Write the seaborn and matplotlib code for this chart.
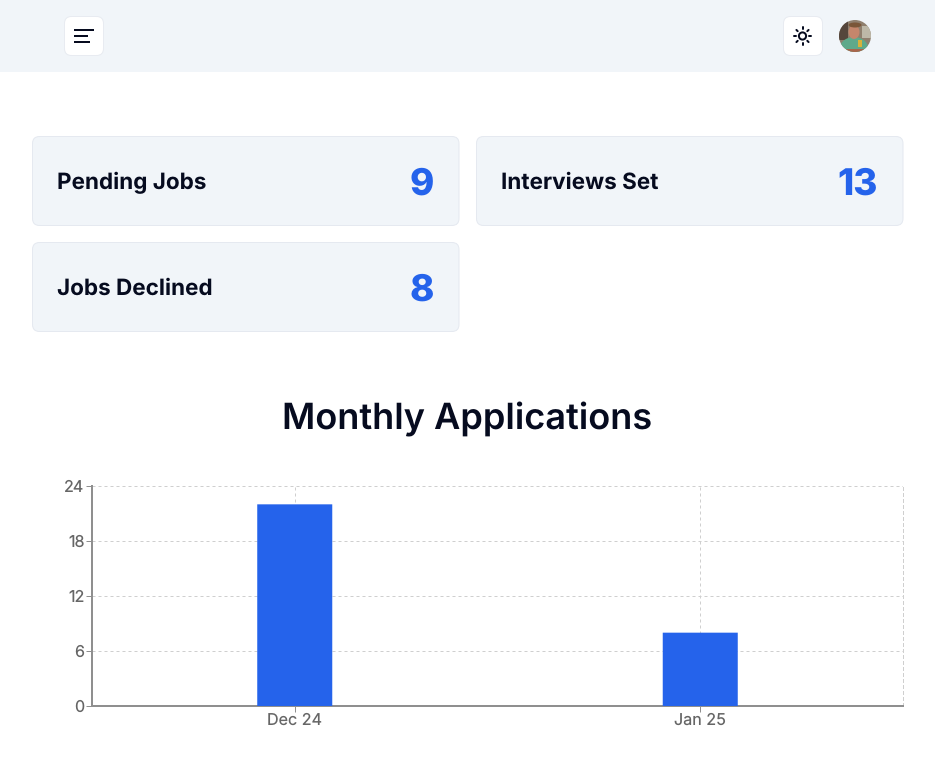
"""
Job tracker dashboard with the monthly applications bar chart.
"""
import numpy as np
import pandas as pd
import matplotlib
matplotlib.use('Agg')
import matplotlib.pyplot as plt
from matplotlib.patches import Circle, FancyBboxPatch, Rectangle, Ellipse
import seaborn as sns

months = ['Dec 24', 'Jan 25']
applications = [22, 8]
y_ticks = [0, 6, 12, 18, 24]

card_labels = ['Pending Jobs', 'Interviews Set', 'Jobs Declined']
card_values = ['9', '13', '8']

W, H = 935, 778
PX = 0.72  # one pixel in points at dpi 100
INK = '#060b1f'
BLUE = '#2563eb'
PANEL = '#f1f5f9'
AXIS = '#8f8f8f'
TICK_TEXT = '#666666'
GRID = '#cfcfcf'

sns.set_theme(style='white')
plt.rcParams['font.family'] = ['Inter', 'Liberation Sans', 'DejaVu Sans']
plt.rcParams['text.hinting'] = 'no_hinting'

fig = plt.figure(figsize=(W / 100, H / 100), dpi=100, facecolor='white')

# page chrome lives on a full size axes in pixel coordinates
page = fig.add_axes([0, 0, 1, 1])
page.set_xlim(0, W)
page.set_ylim(H, 0)
page.axis('off')


def rounded(ax, x, y, w, h, face, edge, r=7, lw=PX):
    ax.add_patch(FancyBboxPatch((x + r, y + r), w - 2 * r, h - 2 * r,
                                boxstyle=f'round,pad={r},rounding_size={r}',
                                facecolor=face, edgecolor=edge, linewidth=lw))


# Top bar
page.add_patch(Rectangle((0, 0), W, 72, facecolor=PANEL, edgecolor='none'))
rounded(page, 64.5, 16.5, 39, 39, 'white', '#e8ebf1')
rounded(page, 783.5, 16.5, 39, 39, 'white', '#e8ebf1')
for y_line, x_end in zip([30, 36, 42], [94, 88, 90]):
    page.plot([74, x_end], [y_line, y_line], color=INK, lw=2 * PX, solid_capstyle='butt')

# Sun icon
page.add_patch(Circle((802.5, 36), 3.6, facecolor='white', edgecolor=INK, lw=2 * PX))
for angle in np.arange(0, 360, 45):
    dx, dy = np.cos(np.radians(angle)), np.sin(np.radians(angle))
    page.plot([802.5 + 6.8 * dx, 802.5 + 8.6 * dx], [36 + 6.8 * dy, 36 + 8.6 * dy],
              color=INK, lw=2 * PX, solid_capstyle='round')

# Avatar, just rough shapes clipped to the circle
clip = Circle((855, 36), 16, transform=page.transData)
avatar_parts = [
    Rectangle((839, 20), 32, 32, facecolor='#8f7f6e', edgecolor='none'),
    Rectangle((839, 20), 9, 20, facecolor='#55463c', edgecolor='none'),
    Rectangle((862, 26), 9, 12, facecolor='#bdb8a8', edgecolor='none'),
    Ellipse((854, 48), 28, 22, facecolor='#5fa98a', edgecolor='none'),
    Ellipse((854, 32), 11, 14, facecolor='#c4866c', edgecolor='none'),
    Ellipse((855, 25), 13, 5, facecolor='#7a5638', edgecolor='none'),
    Rectangle((858, 40), 4, 7, facecolor='#d8b23a', edgecolor='none'),
    Rectangle((839, 49), 32, 3, facecolor='#a8664c', edgecolor='none'),
]
for part in avatar_parts:
    page.add_patch(part)
    part.set_clip_path(clip)

# Stat cards
card_boxes = [(32.5, 136.5), (476.5, 136.5), (32.5, 242.5)]
for (cx, cy), label, value in zip(card_boxes, card_labels, card_values):
    card_w = 426.5
    rounded(page, cx, cy, card_w, 89, PANEL, '#e5e9f0')
    page.text(cx + 24.5, cy + 44.5, label, fontsize=16.2, fontweight='bold', color=INK,
              ha='left', va='center_baseline')
    page.text(cx + card_w - 25, cy + 45, value, fontsize=26.5, fontweight='heavy', color=BLUE,
              ha='right', va='center_baseline')

page.text(467.5, 416, 'Monthly Applications', fontsize=26, fontweight='semibold', color=INK,
          ha='center', va='center_baseline')

# Chart
ax = fig.add_axes([92 / W, 1 - 706 / H, (903 - 92) / W, (706 - 486) / H])
df = pd.DataFrame({'month': months, 'count': applications})
sns.barplot(data=df, x='month', y='count', color=BLUE, saturation=1, width=0.185,
            linewidth=0, ax=ax, zorder=3)
for bar in ax.patches:
    bar.set_snap(False)

ax.set_xlim(-0.5, 1.5)
ax.set_ylim(0, 24)
ax.set_yticks(y_ticks)
ax.set_xlabel('')
ax.set_ylabel('')
ax.patch.set_alpha(0)
ax.grid(True, axis='both', color=GRID, linestyle=(0, (3, 3)), linewidth=PX, zorder=0)
ax.set_axisbelow(True)
ax.tick_params(axis='both', length=6 * PX, width=PX, color=AXIS, labelcolor=TICK_TEXT,
               labelsize=11.6, bottom=True, left=True)
ax.tick_params(axis='y', pad=1)
ax.tick_params(axis='x', pad=0.3)
ax.spines['top'].set_visible(False)
ax.spines['right'].set_color(GRID)
ax.spines['right'].set_linestyle((0, (3, 3)))
ax.spines['right'].set_linewidth(PX)
for side in ['left', 'bottom']:
    ax.spines[side].set_color(AXIS)
    ax.spines[side].set_linewidth(2 * PX)

fig.savefig('out.png', dpi=100, facecolor='white')
